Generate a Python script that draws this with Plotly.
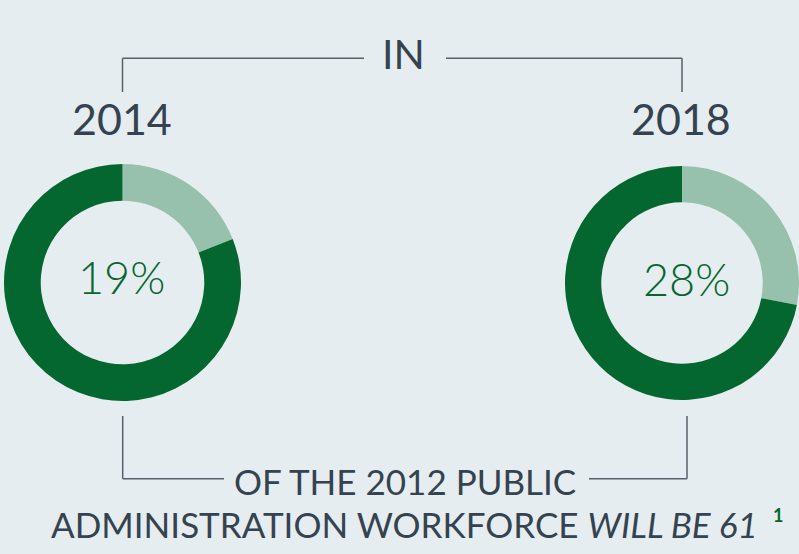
import plotly.graph_objects as go

# ---- data ----
years = ["2014", "2018"]
shares = [19, 28]              # % of 2012 public administration workforce aged 61+
slice_labels = ["61 or older", "Other"]
header_word = "IN"
footer_line1 = "OF THE 2012 PUBLIC"
footer_line2 = "ADMINISTRATION WORKFORCE <i>WILL BE 61</i>"
footnote = "1"

# ---- styling ----
W, H = 799, 554
BG = "#e6edf0"
DARK = "#04672f"
LIGHT = "#97c0ad"
TXT = "#34434f"
LINE = "#55616b"
FONT = "Lato"

def px(x):
    return x / W

def py(y):
    return 1 - y / H

fig = go.Figure()

domains = [
    dict(x=[px(4), px(241)], y=[py(401), py(164)]),
    dict(x=[px(565), 1.0], y=[py(400.5), py(165.5)]),
]

for yr, s, dom in zip(years, shares, domains):
    fig.add_trace(go.Pie(
        labels=slice_labels,
        values=[s, 100 - s],
        hole=0.69,
        sort=False,
        direction="clockwise",
        rotation=0,
        marker=dict(colors=[LIGHT, DARK], line=dict(width=0)),
        textinfo="none",
        hoverinfo="label+percent",
        showlegend=False,
        domain=dom,
        name=yr,
    ))

ann = []
# header
ann.append(dict(x=px(403), y=py(53), text=header_word, showarrow=False,
                xanchor="center", yanchor="middle",
                font=dict(family=FONT, size=41, color=TXT)))
# year labels
ann.append(dict(x=px(122), y=py(119), text=years[0], showarrow=False,
                xanchor="center", yanchor="middle",
                font=dict(family=FONT, size=43, color=TXT)))
ann.append(dict(x=px(681), y=py(119), text=years[1], showarrow=False,
                xanchor="center", yanchor="middle",
                font=dict(family=FONT, size=43, color=TXT)))
# percentages
ann.append(dict(x=px(121), y=py(277), text=f"{shares[0]}%", showarrow=False,
                xanchor="center", yanchor="middle",
                font=dict(family=FONT, size=45, color=DARK, weight=300)))
ann.append(dict(x=px(686), y=py(279), text=f"{shares[1]}%", showarrow=False,
                xanchor="center", yanchor="middle",
                font=dict(family=FONT, size=45, color=DARK, weight=300)))
# footer
ann.append(dict(x=px(405), y=py(480.5), text=footer_line1, showarrow=False,
                xanchor="center", yanchor="middle",
                font=dict(family=FONT, size=35, color=TXT)))
ann.append(dict(x=px(404.5), y=py(523.5), text=footer_line2, showarrow=False,
                xanchor="center", yanchor="middle",
                font=dict(family=FONT, size=35, color=TXT)))
ann.append(dict(x=px(778), y=py(515), text=f"<b>{footnote}</b>", showarrow=False,
                xanchor="center", yanchor="middle",
                font=dict(family=FONT, size=18, color=DARK)))

shapes = []
def seg(x0, y0, x1, y1):
    shapes.append(dict(type="line", xref="paper", yref="paper",
                       x0=px(x0), y0=py(y0), x1=px(x1), y1=py(y1),
                       line=dict(color=LINE, width=1.5)))

# top bracket
seg(122.5, 58.3, 364, 58.3)
seg(122.5, 58.3, 122.5, 92)
seg(446, 58.3, 682, 58.3)
seg(682, 58.3, 682, 92)
# bottom bracket
seg(122.7, 416, 122.7, 478.7)
seg(122.7, 478.7, 224, 478.7)
seg(589, 478.7, 687, 478.7)
seg(687, 416, 687, 478.7)

fig.update_layout(
    width=W, height=H,
    margin=dict(l=0, r=0, t=0, b=0),
    paper_bgcolor=BG, plot_bgcolor=BG,
    annotations=ann, shapes=shapes,
    showlegend=False,
)

fig.write_html("out.html", config={"displayModeBar": False},
               post_script="document.body.style.margin='0';document.body.style.overflow='hidden';")
